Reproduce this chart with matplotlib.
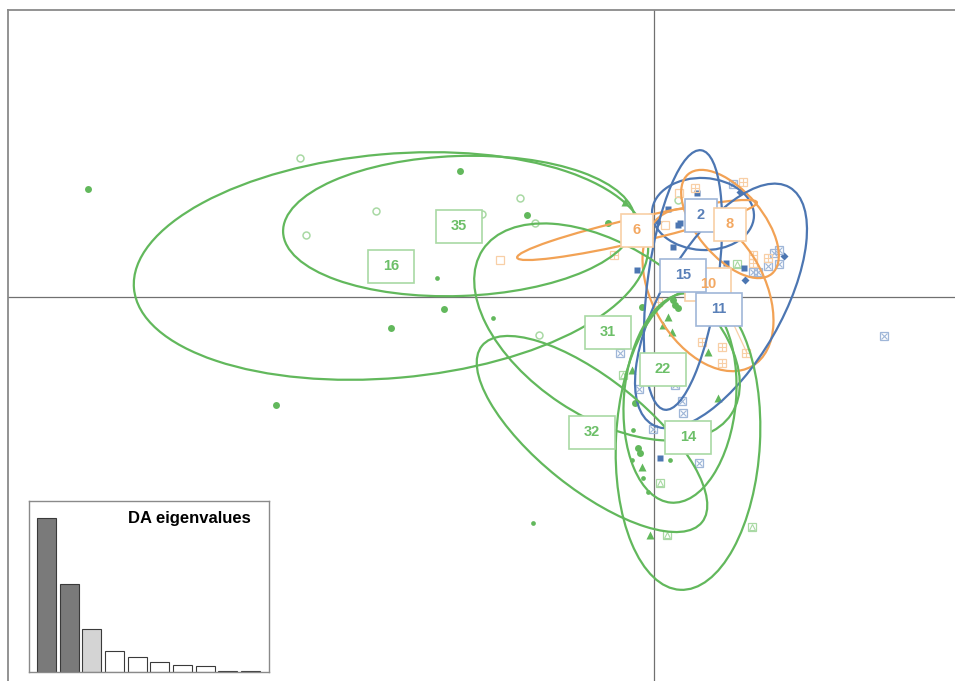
import matplotlib
matplotlib.use("Agg")
import matplotlib.pyplot as plt
from matplotlib.patches import Ellipse, Rectangle

plt.rcParams['font.family'] = ['Liberation Sans', 'DejaVu Sans']

# ---- group summaries (discriminant scores LD1, LD2) ----
groups = ['2', '6', '8', '10', '11', '14', '15', '16', '22', '31', '32', '35']
group_pal = ['blue', 'orange', 'orange', 'orange', 'blue', 'green',
             'blue', 'green', 'green', 'green', 'green', 'green']
lab_x = [0.47, -0.17, 0.76, 0.54, 0.65, 0.34, 0.29, -2.63, 0.09, -0.46, -0.62, -1.95]
lab_y = [0.82, 0.67, 0.73, 0.13, -0.12, -1.40, 0.22, 0.31, -0.72, -0.35, -1.35, 0.71]

# inertia ellipses: centre, semi-axes, orientation (degrees)
ell_x = [0.49, -0.17, 0.76, 0.54, 0.67, 0.34, 0.29, -2.63, 0.26, -0.47, -0.62, -1.95]
ell_y = [0.83, 0.67, 0.73, 0.07, -0.09, -1.43, 0.17, 0.31, -1.01, -0.35, -1.37, 0.71]
ell_a = [0.51, 1.23, 0.65, 0.88, 1.37, 1.50, 1.31, 2.58, 1.05, 1.49, 1.41, 1.76]
ell_b = [0.36, 0.12, 0.33, 0.56, 0.60, 0.72, 0.35, 1.12, 0.56, 0.85, 0.55, 0.70]
ell_ang = [-3, 13, -50, -60, 60, 87, 82, 5, 85, -33.5, -38.7, 2]

# ---- individual scores by symbol ----
g_dot_x = [-5.66, -1.94, -1.27, -0.46, -2.10, -2.63, -3.78, 0.19, 0.24, -0.16, -0.14, -0.12, -0.19, 0.21]
g_dot_y = [1.08, 1.26, 0.82, 0.74, -0.12, -0.31, -1.08, -0.03, -0.11, -1.51, -1.56, -0.10, -1.06, -0.08]
g_small_x = [-2.17, -1.61, -1.21, -0.21, -0.22, -0.11, -0.06, 0.16]
g_small_y = [0.19, -0.21, -2.26, -1.33, -1.63, -1.81, -1.95, -1.63]
g_open_x = [-3.54, -2.78, -3.48, -1.72, -1.34, -1.19, -1.15, 0.24]
g_open_y = [1.39, 0.86, 0.62, 0.83, 0.99, 0.74, -0.38, 0.97]
g_tri_x = [-0.29, 0.14, 0.09, 0.18, -0.12, -0.04, 0.64, 0.54, -0.22]
g_tri_y = [0.95, -0.20, -0.28, -0.35, -1.70, -2.38, -1.01, -0.55, -0.73]
g_sqtri_x = [0.06, 0.13, 0.98, 0.83, -0.31]
g_sqtri_y = [-1.86, -2.38, -2.30, 0.33, -0.78]
b_sq_x = [0.43, 0.26, 0.14, 0.19, -0.17, 0.72, 0.90, 0.06, 0.24]
b_sq_y = [1.04, 0.74, 0.88, 0.50, 0.27, 0.34, 0.29, -1.61, 0.72]
b_dia_x = [0.91, 1.30, 0.86, 0.04]
b_dia_y = [0.17, 0.41, 1.05, 0.75]
b_sqx_x = [2.30, 1.20, 1.25, 1.14, 1.04, 0.99, 0.28, 0.29, 0.45, -0.01, -0.15, -0.34, 0.21, 0.79, 1.25]
b_sqx_y = [-0.39, 0.44, 0.33, 0.31, 0.25, 0.25, -1.04, -1.16, -1.66, -1.32, -0.92, -0.56, -0.88, 1.13, 0.47]
o_sq_x = [-1.54, 0.11, 0.25]
o_sq_y = [0.37, 0.72, 1.04]
o_sqp_x = [0.41, 0.89, -0.40, 0.99, 1.14, 0.99, 0.48, 0.68, 0.92, 0.68, 0.04]
o_sqp_y = [1.09, 1.15, 0.42, 0.42, 0.39, 0.34, -0.45, -0.50, -0.56, -0.66, -0.05]
o_link_x = [0.79, 0.93]
o_link_y = [-0.26, -0.56]

# ---- DA eigenvalues ----
eig = [154, 88, 43, 21, 15, 10, 7, 6, 1.2, 1.0]
eig_fill = ['#7a7a7a', '#7a7a7a', '#d4d4d4'] + ['white'] * 7

COL = {'green': '#62b85c', 'orange': '#f2a255', 'blue': '#4c76b2'}
TXT = {'green': '#6cbf68', 'orange': '#f3a862', 'blue': '#5a80b8'}
LIGHT = {'green': '#a9d9a4', 'orange': '#f8cfa6', 'blue': '#9fb6d8'}

fig = plt.figure(figsize=(9.55, 6.81), dpi=100)
ax = fig.add_axes([8 / 955, -0.1, 1.0, 1 - 10 / 681 + 0.1])
ax.set_xlim(-6.46, 3.09)
ax.set_ylim(-4.521, 2.87)
ax.set_xticks([])
ax.set_yticks([])
for s in ax.spines.values():
    s.set_color('#8a8a8a')
    s.set_linewidth(1.3)

ax.axhline(0, color='#707070', lw=0.9, zorder=1)
ax.axvline(0, color='#707070', lw=0.9, zorder=1)

# points
ax.plot(g_dot_x, g_dot_y, 'o', ms=5, color=COL['green'], mec='none', zorder=3)
ax.plot(g_small_x, g_small_y, 'o', ms=3.4, color=COL['green'], mec='none', zorder=3)
ax.plot(g_open_x, g_open_y, 'o', ms=5, mfc='none', mec=LIGHT['green'], mew=1.1, zorder=3)
ax.plot(g_tri_x, g_tri_y, '^', ms=6, color=COL['green'], mec='none', zorder=3)
ax.plot(g_sqtri_x, g_sqtri_y, 's', ms=5.5, mfc='none', mec=LIGHT['green'], mew=0.9, zorder=3)
ax.plot(g_sqtri_x, g_sqtri_y, '^', ms=4, mfc='none', mec=LIGHT['green'], mew=0.8, zorder=3)
ax.plot(b_sq_x, b_sq_y, 's', ms=5, color=COL['blue'], mec='none', zorder=3)
ax.plot(b_dia_x, b_dia_y, 'D', ms=4, color=COL['blue'], mec='none', zorder=3)
ax.plot(b_sqx_x, b_sqx_y, 's', ms=5.5, mfc='none', mec=LIGHT['blue'], mew=0.9, zorder=3)
ax.plot(b_sqx_x, b_sqx_y, 'x', ms=4.2, mec=LIGHT['blue'], mew=0.8, zorder=3)
ax.plot(o_sq_x, o_sq_y, 's', ms=5.5, mfc='none', mec=LIGHT['orange'], mew=0.9, zorder=3)
ax.plot(o_sqp_x, o_sqp_y, 's', ms=5.5, mfc='none', mec=LIGHT['orange'], mew=0.9, zorder=3)
ax.plot(o_sqp_x, o_sqp_y, '+', ms=5.5, mec=LIGHT['orange'], mew=0.8, zorder=3)
ax.plot(o_link_x, o_link_y, '-', color=LIGHT['orange'], lw=0.9, zorder=3)

# inertia ellipses
for g, cx, cy, a, b, ang in zip(group_pal, ell_x, ell_y, ell_a, ell_b, ell_ang):
    ax.add_patch(Ellipse((cx, cy), 2 * a, 2 * b, angle=ang, fill=False,
                         ec=COL[g], lw=1.6, zorder=4))

# group labels in boxes
box_h = 0.33
for name, g, x, y in zip(groups, group_pal, lab_x, lab_y):
    w = 0.18 + 0.14 * len(name)
    ax.add_patch(Rectangle((x - w / 2, y - box_h / 2), w, box_h, fc='white',
                           ec=LIGHT[g], lw=1.2, zorder=5))
    ax.text(x, y, name, ha='center', va='center', fontsize=10.5,
            fontweight='bold', color=TXT[g], zorder=6)

# eigenvalue inset
ins = fig.add_axes([29 / 955, (681 - 672) / 681, 240 / 955, 171 / 681])
ins.bar(range(len(eig)), eig, width=0.84, color=eig_fill, edgecolor='#3a3a3a',
        linewidth=0.8)
ins.set_xlim(-0.77, 9.81)
ins.set_ylim(0, 171)
ins.set_xticks([])
ins.set_yticks([])
for s in ins.spines.values():
    s.set_color('#8a8a8a')
    s.set_linewidth(1.0)
ins.text(0.925, 0.94, 'DA eigenvalues', transform=ins.transAxes, ha='right',
         va='top', fontsize=12, fontweight='bold')

fig.savefig('out.png', dpi=100)
